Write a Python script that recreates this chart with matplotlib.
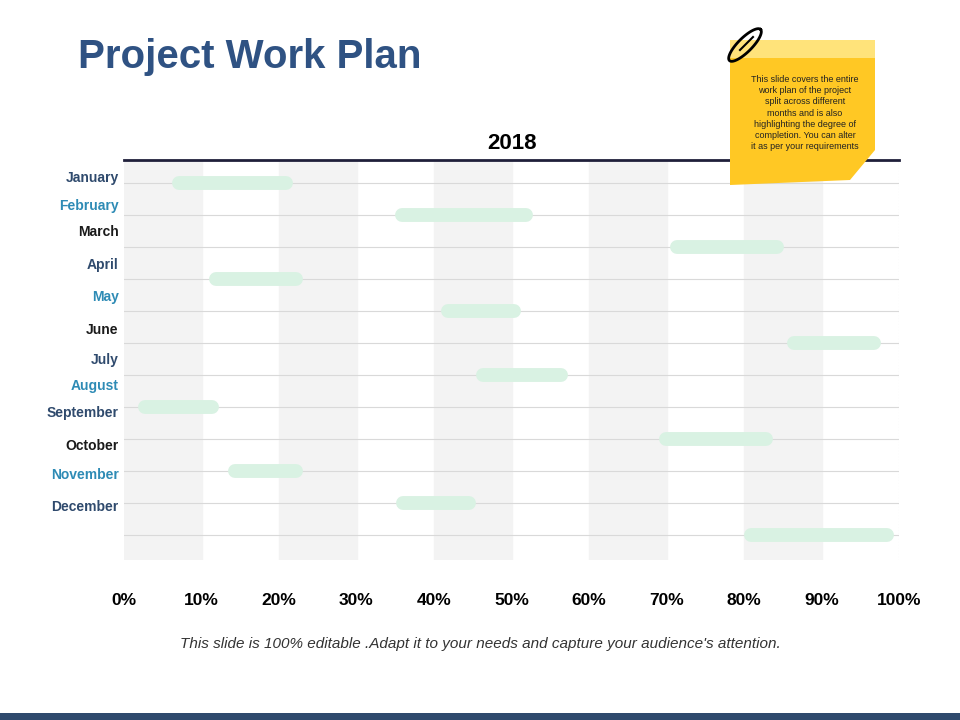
import matplotlib.pyplot as plt
import numpy as np
from matplotlib.patches import Rectangle, Polygon
from matplotlib.transforms import blended_transform_factory

plt.rcParams['font.family'] = 'Liberation Sans'

months = ['January', 'February', 'March', 'April', 'May', 'June', 'July',
          'August', 'September', 'October', 'November', 'December']
month_colors = ['#2f4a6d', '#2e8bb5', '#1a1a1a', '#2f4a6d', '#2e8bb5', '#1a1a1a',
                '#2f4a6d', '#2e8bb5', '#2f4a6d', '#1a1a1a', '#2e8bb5', '#2f4a6d']
# label positions in row units (labels sit a bit off the rows)
label_pos = [-0.16, 0.72, 1.53, 2.56, 3.56, 4.59, 5.53, 6.34, 7.19, 8.22, 9.13, 10.13]
bar_start = [6.2, 35.0, 70.5, 11.0, 40.9, 85.5, 45.4, 1.8, 69.0, 13.4, 35.1, 80.0]
bar_end = [21.8, 52.8, 85.2, 23.1, 51.2, 97.7, 57.3, 12.3, 83.7, 23.1, 45.4, 99.4]
xticks = [0, 10, 20, 30, 40, 50, 60, 70, 80, 90, 100]

fig = plt.figure(figsize=(9.6, 7.2), dpi=100)
ax = fig.add_axes([124/960, 1-560/720, (899-124)/960, 400/720])
ax.set_xlim(0, 100)
ax.set_ylim(11.78, -0.72)

for x0 in range(0, 100, 20):
    ax.axvspan(x0, x0+10, color='#f3f3f3', zorder=0)
for k in range(12):
    ax.axhline(k, color='#d9d9d9', lw=0.8, zorder=1)
ax.axvline(100, color='#d9d9d9', lw=0.8, ls=':')

# rounded bars: thick lines with round caps (cap radius ~7px = 0.9%)
for k, (s, e) in enumerate(zip(bar_start, bar_end)):
    ax.plot([s + 0.9, e - 0.9], [k, k], color='#d9f2e3', lw=10,
            solid_capstyle='round', zorder=2)

tr = blended_transform_factory(ax.transAxes, ax.transData)
for name, c, y in zip(months, month_colors, label_pos):
    ax.text(-0.007, y, name, transform=tr, ha='right', va='center',
            fontsize=10, fontweight='bold', color=c)

for s in ['left', 'right', 'bottom']:
    ax.spines[s].set_visible(False)
ax.spines['top'].set_color('#1f1f3a')
ax.spines['top'].set_linewidth(2)
ax.set_yticks([])
ax.set_xticks(xticks)
ax.set_xticklabels([f'{v}%' for v in xticks], fontsize=12.5, fontweight='bold')
ax.tick_params(axis='x', length=0, pad=24)
ax.set_title('2018', fontsize=16, fontweight='bold', pad=8)

fig.text(78/960, 1-57/720, 'Project Work Plan', fontsize=29, fontweight='bold',
         color='#2f5283', va='center')
fig.text(0.5, 1-644/720, "This slide is 100% editable .Adapt it to your needs and capture your audience's attention.",
         fontsize=11, style='italic', color='#333333', ha='center', va='center')

# sticky note
bg = fig.add_axes([0, 0, 1, 1], zorder=5)
bg.set_xlim(0, 960)
bg.set_ylim(720, 0)
bg.axis('off')
bg.add_patch(Polygon([[730, 40], [875, 40], [875, 150], [850, 180], [730, 185]],
                     closed=True, fc='#ffc824', ec='none'))
bg.add_patch(Rectangle((730, 40), 145, 18, fc='#ffe37a', ec='none'))
t = np.linspace(0, 2*np.pi, 100)
ang = np.deg2rad(-45)
cx, cy, a, b = 745, 45, 22, 7
px = cx + a*np.cos(t)*np.cos(ang) - b*np.sin(t)*np.sin(ang)
py = cy + a*np.cos(t)*np.sin(ang) + b*np.sin(t)*np.cos(ang)
bg.plot(px, py, color='black', lw=2)
bg.plot([cx - 5, cx + 8], [cy + 5, cy - 8], color='black', lw=1.5)
bg.text(805, 113, 'This slide covers the entire\nwork plan of the project\nsplit across different\nmonths and is also\nhighlighting the degree of\ncompletion. You can alter\nit as per your requirements',
        fontsize=6.5, ha='center', va='center', linespacing=1.3, color='#222222')
bg.add_patch(Rectangle((0, 713), 960, 7, fc='#2f4a6d', ec='none'))

fig.savefig('out.png', dpi=100)
